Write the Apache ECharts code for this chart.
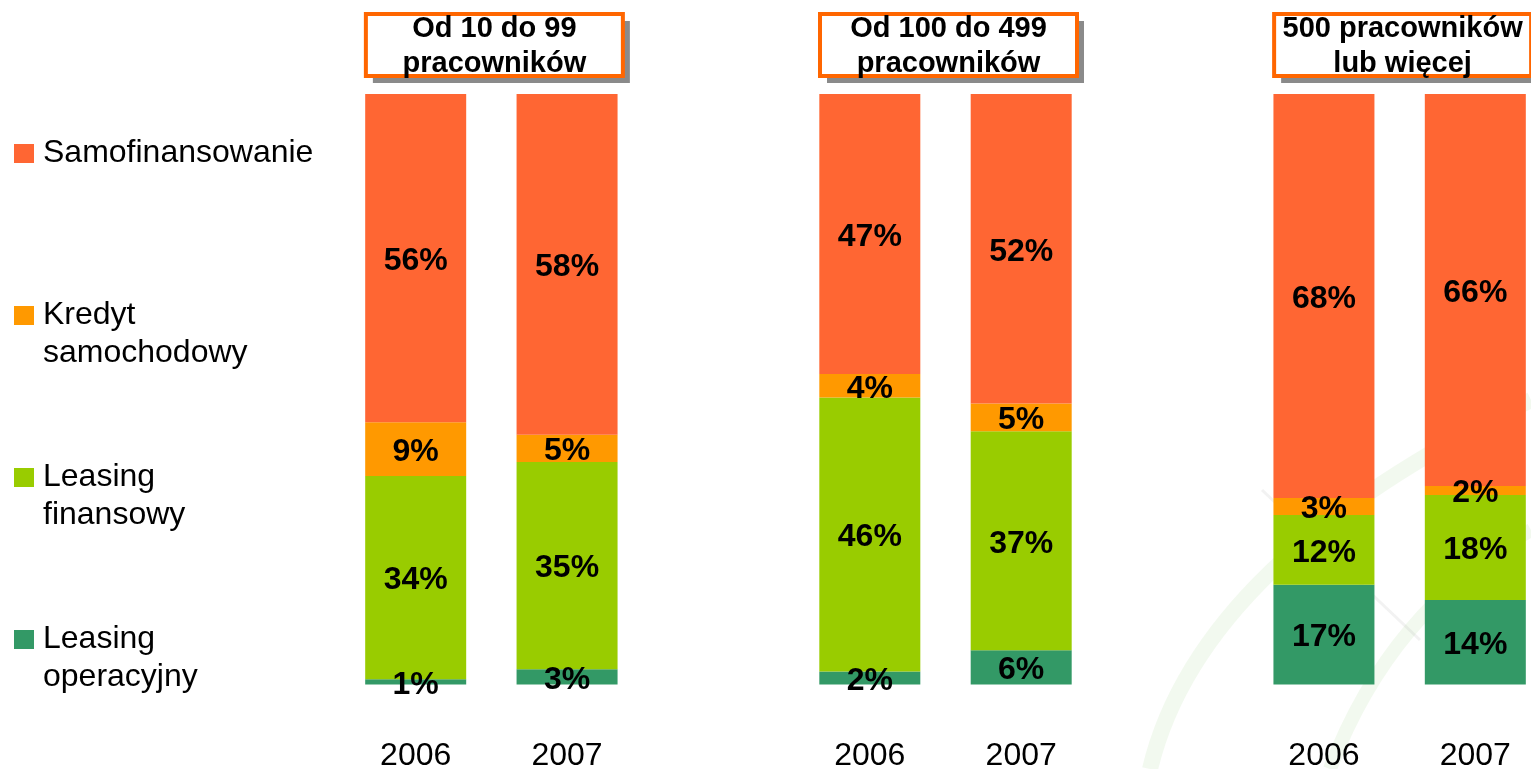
<!DOCTYPE html>
<html>
<head>
    <meta charset="utf-8" />
    <title>Finansowanie samochodów</title>
    <style>
        html, body { margin: 0; padding: 0; background: #fff; }
        #divChart { width: 1531px; height: 769px; }
    </style>
</head>
<body>
    <div id="divChart"></div>
    <script src="https://cdn.jsdelivr.net/npm/echarts@6/dist/echarts.min.js"></script>
    <script>
        var groupTitles = ['Od 10 do 99\npracowników', 'Od 100 do 499\npracowników', '500 pracowników\nlub więcej'];
        var years = ['2006', '2007'];
        var seriesNames = ['Samofinansowanie', 'Kredyt\nsamochodowy', 'Leasing\nfinansowy', 'Leasing\noperacyjny'];
        var seriesColors = ['#FF6633', '#FF9900', '#99CC00', '#339966'];

        // kolejność słupków: grupa1 2006, grupa1 2007, grupa2 2006, grupa2 2007, grupa3 2006, grupa3 2007
        var samofinansowanie = [55.6, 57.7, 47.4, 52.4, 68.4, 66.4];
        var kredyt = [9.1, 4.6, 4.0, 4.7, 2.9, 1.5];
        var leasingFinansowy = [34.4, 35.1, 46.4, 37.1, 11.8, 17.8];
        var leasingOperacyjny = [0.9, 2.6, 2.2, 5.8, 16.9, 14.3];

        var FONT = '"Liberation Sans", Arial, sans-serif';

        // kategorie z pustym miejscem między grupami
        var categories = [];
        groupTitles.forEach(function (t, g) {
            if (g > 0) categories.push('');
            years.forEach(function (y) { categories.push(y); });
        });
        function spread(values) {
            var out = [];
            for (var g = 0; g < groupTitles.length; g++) {
                if (g > 0) out.push('-');
                for (var k = 0; k < years.length; k++) out.push(values[g * years.length + k]);
            }
            return out;
        }

        var stackOrder = [
            { name: seriesNames[3], color: seriesColors[3], data: leasingOperacyjny },
            { name: seriesNames[2], color: seriesColors[2], data: leasingFinansowy },
            { name: seriesNames[1], color: seriesColors[1], data: kredyt },
            { name: seriesNames[0], color: seriesColors[0], data: samofinansowanie }
        ];

        var myChart = echarts.init(document.getElementById('divChart'));

        var option = {
            backgroundColor: '#fff',
            animation: false,
            grid: { left: 340, top: 94, width: 1211, height: 590.5, outerBoundsMode: 'none', containLabel: false },
            legend: {
                orient: 'vertical',
                left: 14,
                top: 134.5,
                padding: 0,
                itemGap: 86,
                itemWidth: 24,
                itemHeight: 57,
                selectedMode: false,
                icon: 'path://M0,0H20V19H0Z M24,57',
                textStyle: { fontSize: 32, lineHeight: 38, color: '#000', fontFamily: FONT },
                formatter: function (name) { return name.indexOf('\n') < 0 ? name + '\n ' : name; },
                data: seriesNames
            },
            xAxis: {
                type: 'category',
                data: categories,
                axisLine: { show: false },
                axisTick: { show: false },
                axisLabel: { interval: 0, margin: 56, fontSize: 32, color: '#000', fontFamily: FONT }
            },
            yAxis: { type: 'value', min: 0, max: 100, show: false },
            series: stackOrder.map(function (s) {
                return {
                    name: s.name,
                    type: 'bar',
                    stack: 'total',
                    barWidth: 101,
                    itemStyle: { color: s.color },
                    label: {
                        show: true,
                        position: 'inside',
                        offset: [0, 3],
                        color: '#000',
                        fontSize: 32,
                        fontWeight: 'bold',
                        fontFamily: FONT,
                        textBorderWidth: 0,
                        formatter: function (p) { return Math.round(p.value) + '%'; }
                    },
                    data: spread(s.data)
                };
            })
        };
        myChart.setOption(option);

        // ramki z tytułami grup + delikatne tło
        var graphics = [
            { type: 'bezierCurve', z: -10, silent: true,
              shape: { x1: 1150, y1: 769, cpx1: 1200, cpy1: 560, x2: 1531, y2: 400 },
              style: { stroke: 'rgba(140,200,110,0.11)', lineWidth: 16, fill: null } },
            { type: 'bezierCurve', z: -10, silent: true,
              shape: { x1: 1330, y1: 769, cpx1: 1390, cpy1: 610, x2: 1531, y2: 530 },
              style: { stroke: 'rgba(140,200,110,0.11)', lineWidth: 14, fill: null } },
            { type: 'line', z: -10, silent: true,
              shape: { x1: 1262, y1: 490, x2: 1420, y2: 640 },
              style: { stroke: 'rgba(150,150,150,0.12)', lineWidth: 3 } }
        ];
        groupTitles.forEach(function (t, g) {
            var i0 = g * 3;
            var cx = (myChart.convertToPixel({ xAxisIndex: 0 }, i0) + myChart.convertToPixel({ xAxisIndex: 0 }, i0 + 1)) / 2 + 3;
            var w = 257, h = 62, x = cx - w / 2, y = 14;
            graphics.push({ type: 'rect', silent: true, z: 10,
                shape: { x: x + 7, y: y + 7, width: w, height: h },
                style: { fill: '#8a8a8a' } });
            graphics.push({ type: 'rect', silent: true, z: 11,
                shape: { x: x, y: y, width: w, height: h },
                style: { fill: '#fff', stroke: '#FF6600', lineWidth: 4 } });
            graphics.push({ type: 'text', silent: true, z: 12,
                x: cx, y: 46,
                style: { text: t, fill: '#000', font: 'bold 29px ' + FONT, lineHeight: 35,
                         textAlign: 'center', textVerticalAlign: 'middle' } });
        });
        myChart.setOption({ graphic: graphics });
    </script>
</body>
</html>
